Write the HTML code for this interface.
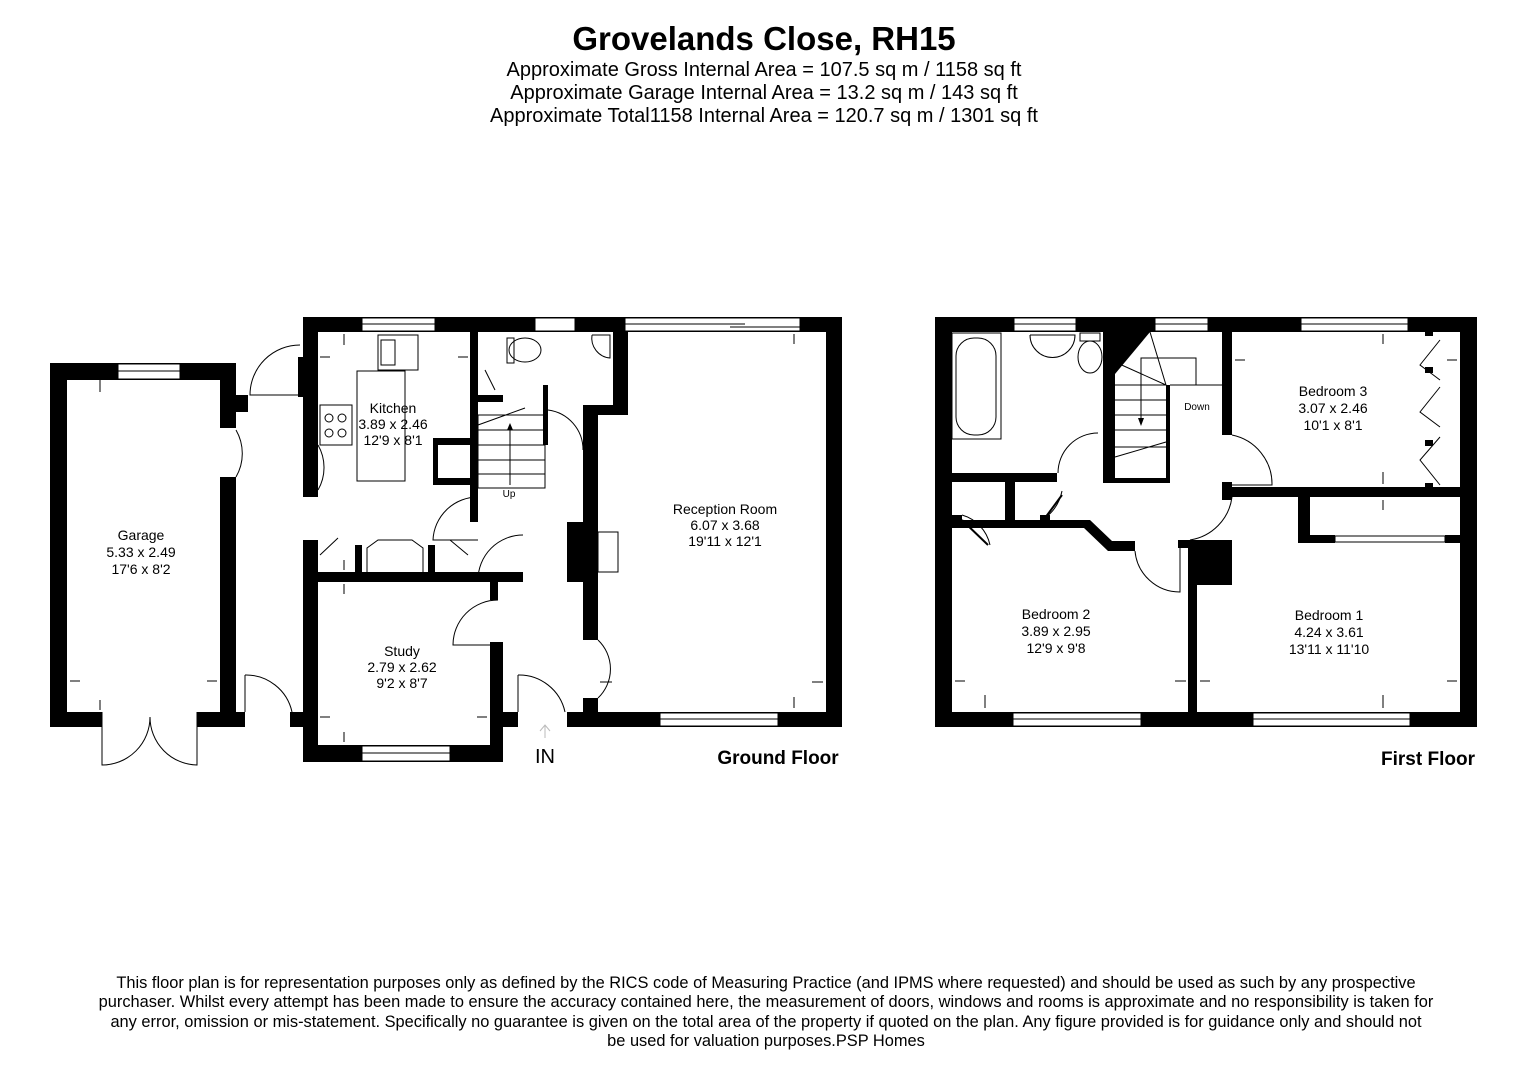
<!DOCTYPE html>
<html><head><meta charset="utf-8"><style>
html,body{margin:0;padding:0;background:#fff;}
svg{display:block;font-family:"Liberation Sans",Arial,sans-serif;}
</style></head><body>
<svg width="1528" height="1080" viewBox="0 0 1528 1080" xmlns="http://www.w3.org/2000/svg">
<rect width="1528" height="1080" fill="#fff"/>
<g text-anchor="middle" fill="#000">
<text x="764" y="50" font-size="33" font-weight="bold">Grovelands Close, RH15</text>
<text x="764" y="76" font-size="20">Approximate Gross Internal Area = 107.5 sq m / 1158 sq ft</text>
<text x="764" y="99" font-size="20">Approximate Garage Internal Area = 13.2 sq m / 143 sq ft</text>
<text x="764" y="122" font-size="20">Approximate Total1158 Internal Area = 120.7 sq m / 1301 sq ft</text>
</g>

<!-- GROUND FLOOR walls -->
<g fill="#000">
<rect x="50" y="363" width="17" height="364"/>
<rect x="50" y="363" width="186" height="17"/>
<rect x="220" y="363" width="16" height="65"/>
<rect x="220" y="477" width="16" height="235"/>
<rect x="50" y="712" width="52" height="15"/>
<rect x="197" y="712" width="48" height="15"/>
<rect x="231" y="395" width="17" height="17"/>
<rect x="290" y="712" width="28" height="15"/>
<rect x="303" y="317" width="539" height="15"/>
<rect x="303" y="317" width="15" height="180"/>
<rect x="298" y="357" width="6" height="40"/>
<rect x="303" y="540" width="15" height="222"/>
<rect x="303" y="745" width="200" height="17"/>
<rect x="490" y="642" width="13" height="120"/>
<rect x="490" y="580" width="8" height="20"/>
<rect x="318" y="572" width="205" height="10"/>
<rect x="355" y="545" width="7" height="30"/>
<rect x="428" y="545" width="7" height="30"/>
<rect x="470" y="332" width="8" height="190"/>
<rect x="435" y="438" width="35" height="7"/>
<rect x="433" y="438" width="5" height="45"/>
<rect x="433" y="478" width="40" height="7"/>
<rect x="473" y="395" width="30" height="7"/>
<rect x="613" y="332" width="15" height="80"/>
<rect x="583" y="405" width="45" height="10"/>
<rect x="583" y="405" width="15" height="235"/>
<rect x="567" y="522" width="31" height="60"/>
<rect x="583" y="698" width="15" height="29"/>
<rect x="543" y="385" width="5" height="60"/>
<rect x="826" y="317" width="16" height="410"/>
<rect x="567" y="712" width="275" height="15"/>
<rect x="503" y="712" width="15" height="15"/>
</g>
<g fill="#fff" stroke="#000" stroke-width="1">
<rect x="118" y="364" width="62" height="15"/>
<line x1="118" y1="371" x2="180" y2="371"/>
<rect x="362" y="318" width="73" height="13"/>
<line x1="362" y1="324" x2="435" y2="324"/>
<rect x="535" y="318" width="40" height="13"/>
<rect x="625" y="318" width="175" height="13"/>
<line x1="625" y1="324" x2="745" y2="324"/><line x1="730" y1="327" x2="800" y2="327"/>
<rect x="660" y="713" width="118" height="13"/>
<line x1="660" y1="719" x2="778" y2="719"/>
<rect x="362" y="746" width="88" height="15"/>
<line x1="362" y1="753" x2="450" y2="753"/>
<rect x="598" y="532" width="20" height="40"/>
</g>
<g fill="none" stroke="#000" stroke-width="1">
<path d="M102 712 L102 765 A48 48 0 0 0 150 717"/>
<path d="M197 712 L197 765 A48 48 0 0 1 150 717"/>
<path d="M300 345 A50 50 0 0 0 250 395 L300 395"/>
<path d="M236 430 A47 47 0 0 1 236 477"/>
<path d="M245 675 A47 47 0 0 1 292 712 M245 675 L245 712"/>
<path d="M318 445 A45 45 0 0 1 318 490"/>
<path d="M478 497 A45 45 0 0 0 433 540 L478 540"/>
<path d="M523 535 A45 45 0 0 0 478 580"/>
<path d="M498 600 A45 45 0 0 0 453 645 L498 645"/>
<path d="M548 410 A40 40 0 0 1 583 450"/>
<path d="M598 640 A40 40 0 0 1 598 698"/>
<path d="M518 675 A47 47 0 0 1 565 712 M518 675 L518 712"/>
<rect x="357" y="371" width="48" height="110"/>
<rect x="378" y="335" width="40" height="35"/>
<rect x="381" y="340" width="14" height="25"/>
<rect x="320" y="405" width="32" height="40"/>
<circle cx="329" cy="418" r="4"/><circle cx="342" cy="418" r="4"/><circle cx="329" cy="433" r="4"/><circle cx="342" cy="433" r="4"/>
<path d="M367 572 L367 548 L378 540 L412 540 L423 548 L423 572"/>
<path d="M320 555 L338 538 M450 540 L468 555 M485 370 L495 390"/>
<ellipse cx="525" cy="350" rx="16" ry="12"/><rect x="507" y="338" width="7" height="25"/>
<path d="M592 335 L610 335 L610 358 A20 20 0 0 1 592 335"/>
<rect x="478" y="415" width="67" height="73"/>
<line x1="478" y1="430" x2="545" y2="430"/><line x1="478" y1="445" x2="545" y2="445"/><line x1="478" y1="460" x2="545" y2="460"/><line x1="478" y1="474" x2="545" y2="474"/>
<line x1="478" y1="425" x2="525" y2="408"/>
<line x1="510" y1="485" x2="510" y2="430"/>
</g>
<path d="M507 430 L510 423 L513 430 Z" fill="#000"/>
<path d="M545 738 L545 725 M540 731 L545 725 L550 731" stroke="#bbb" fill="none"/>
<g stroke="#000" stroke-width="1">
<line x1="100" y1="380" x2="100" y2="392"/><line x1="70" y1="681" x2="80" y2="681"/><line x1="207" y1="681" x2="217" y2="681"/><line x1="100" y1="700" x2="100" y2="710"/>
<line x1="344" y1="334" x2="344" y2="345"/><line x1="320" y1="357" x2="330" y2="357"/><line x1="458" y1="357" x2="468" y2="357"/>
<line x1="344" y1="560" x2="344" y2="570"/><line x1="344" y1="584" x2="344" y2="594"/>
<line x1="320" y1="717" x2="330" y2="717"/><line x1="477" y1="717" x2="487" y2="717"/><line x1="344" y1="732" x2="344" y2="742"/>
<line x1="794" y1="334" x2="794" y2="344"/><line x1="600" y1="682" x2="612" y2="682"/><line x1="812" y1="682" x2="823" y2="682"/><line x1="794" y1="697" x2="794" y2="708"/>
</g>
<g font-size="14" text-anchor="middle" fill="#000">
<text x="141" y="540">Garage</text><text x="141" y="557">5.33 x 2.49</text><text x="141" y="574">17'6 x 8'2</text>
<text x="393" y="413">Kitchen</text><text x="393" y="429">3.89 x 2.46</text><text x="393" y="445">12'9 x 8'1</text>
<text x="402" y="656">Study</text><text x="402" y="672">2.79 x 2.62</text><text x="402" y="688">9'2 x 8'7</text>
<text x="725" y="514">Reception Room</text><text x="725" y="530">6.07 x 3.68</text><text x="725" y="546">19'11 x 12'1</text>
<text x="509" y="497" font-size="10">Up</text>
<text x="545" y="763" font-size="20">IN</text>
<text x="778" y="764" font-size="19" font-weight="bold">Ground Floor</text>
</g>

<!-- FIRST FLOOR -->
<g fill="#000">
<rect x="935" y="317" width="542" height="15"/>
<rect x="935" y="317" width="17" height="410"/>
<rect x="1460" y="317" width="17" height="410"/>
<rect x="935" y="712" width="542" height="15"/>
<rect x="952" y="473" width="105" height="9"/>
<rect x="1103" y="332" width="12" height="150"/>
<path d="M1103 332 L1150 332 L1110 380 Z"/>
<rect x="1103" y="478" width="67" height="5"/>
<rect x="1166" y="385" width="4" height="98"/>
<rect x="1222" y="332" width="10" height="103"/>
<rect x="1222" y="482" width="10" height="18"/>
<rect x="1222" y="487" width="255" height="10"/>
<rect x="1298" y="495" width="12" height="48"/>
<rect x="1298" y="535" width="37" height="8"/>
<rect x="1445" y="535" width="15" height="8"/>
<rect x="1188" y="540" width="44" height="45"/>
<rect x="1188" y="540" width="9" height="172"/>
<rect x="1178" y="540" width="12" height="8"/>
<path d="M952 520 L1090 520 L1112 541 L1135 541 L1135 551 L1108 551 L1084 528 L952 528 Z"/>
<rect x="1005" y="482" width="10" height="46"/>
<rect x="952" y="515" width="10" height="13"/>
<rect x="1040" y="515" width="10" height="10"/>
<rect x="1425" y="330" width="8" height="6"/><rect x="1425" y="367" width="8" height="6"/><rect x="1425" y="440" width="8" height="6"/><rect x="1425" y="483" width="8" height="6"/>
</g>
<g fill="#fff" stroke="#000" stroke-width="1">
<rect x="1014" y="318" width="62" height="13"/><line x1="1014" y1="324" x2="1076" y2="324"/>
<rect x="1155" y="318" width="53" height="13"/><line x1="1155" y1="324" x2="1208" y2="324"/>
<rect x="1301" y="318" width="107" height="13"/><line x1="1301" y1="324" x2="1408" y2="324"/>
<rect x="1013" y="713" width="128" height="13"/><line x1="1013" y1="719" x2="1141" y2="719"/>
<rect x="1253" y="713" width="157" height="13"/><line x1="1253" y1="719" x2="1410" y2="719"/>
<rect x="1335" y="536" width="110" height="6"/>
</g>
<g fill="none" stroke="#000" stroke-width="1">
<rect x="952" y="333" width="49" height="106"/>
<rect x="956" y="338" width="40" height="97" rx="18"/>
<path d="M1030 335 L1075 335 A22 22 0 0 1 1030 335"/>
<ellipse cx="1090" cy="357" rx="12" ry="16"/><rect x="1080" y="333" width="20" height="8"/>
<line x1="1115" y1="362" x2="1166" y2="385"/><line x1="1150" y1="332" x2="1166" y2="385"/>
<line x1="1115" y1="385" x2="1166" y2="385"/><line x1="1115" y1="400" x2="1166" y2="400"/><line x1="1115" y1="415" x2="1166" y2="415"/><line x1="1115" y1="430" x2="1166" y2="430"/><line x1="1115" y1="447" x2="1166" y2="447"/>
<line x1="1115" y1="457" x2="1166" y2="442"/>
<path d="M1141 422 L1141 358 L1196 358 L1196 385 L1222 385"/>
<line x1="1170" y1="385" x2="1222" y2="385"/>
<path d="M1098 433 A40 40 0 0 0 1058 473"/>
<path d="M1232 435 A50 50 0 0 1 1272 485 L1232 485"/>
<path d="M1232 497 A50 50 0 0 1 1190 540"/>
<path d="M1135 551 A45 45 0 0 0 1180 592 L1180 545"/>
<path d="M1062 491 A45 45 0 0 1 1045 518"/>
<path d="M962 515 A40 40 0 0 1 990 545"/>
<path d="M1440 340 L1420 365 L1440 380 M1440 387 L1420 412 L1440 427 M1440 437 L1420 460 L1440 485"/>
</g>
<g stroke="#000" stroke-width="2" fill="none">
<line x1="1045" y1="518" x2="1062" y2="495"/>
<line x1="962" y1="520" x2="988" y2="545"/>
</g>
<path d="M1138 418 L1141 426 L1144 418 Z" fill="#000"/>
<g stroke="#000" stroke-width="1">
<line x1="1383" y1="334" x2="1383" y2="344"/><line x1="1235" y1="360" x2="1245" y2="360"/><line x1="1447" y1="360" x2="1457" y2="360"/>
<line x1="1383" y1="472" x2="1383" y2="484"/><line x1="1383" y1="500" x2="1383" y2="510"/>
<line x1="955" y1="681" x2="965" y2="681"/><line x1="1175" y1="681" x2="1186" y2="681"/><line x1="985" y1="695" x2="985" y2="708"/>
<line x1="1200" y1="681" x2="1210" y2="681"/><line x1="1447" y1="681" x2="1457" y2="681"/><line x1="1383" y1="695" x2="1383" y2="708"/>
</g>
<g font-size="14" text-anchor="middle" fill="#000">
<text x="1333" y="396">Bedroom 3</text><text x="1333" y="413">3.07 x 2.46</text><text x="1333" y="430">10'1 x 8'1</text>
<text x="1056" y="619">Bedroom 2</text><text x="1056" y="636">3.89 x 2.95</text><text x="1056" y="653">12'9 x 9'8</text>
<text x="1329" y="620">Bedroom 1</text><text x="1329" y="637">4.24 x 3.61</text><text x="1329" y="654">13'11 x 11'10</text>
<text x="1197" y="410" font-size="10">Down</text>
<text x="1428" y="765" font-size="19" font-weight="bold">First Floor</text>
</g>

<g font-size="16.4" text-anchor="middle" fill="#000">
<text x="766" y="988">This floor plan is for representation purposes only as defined by the RICS code of Measuring Practice (and IPMS where requested) and should be used as such by any prospective</text>
<text x="766" y="1007">purchaser. Whilst every attempt has been made to ensure the accuracy contained here, the measurement of doors, windows and rooms is approximate and no responsibility is taken for</text>
<text x="766" y="1027">any error, omission or mis-statement. Specifically no guarantee is given on the total area of the property if quoted on the plan. Any figure provided is for guidance only and should not</text>
<text x="766" y="1046">be used for valuation purposes.PSP Homes</text>
</g>
</svg>
</body></html>
